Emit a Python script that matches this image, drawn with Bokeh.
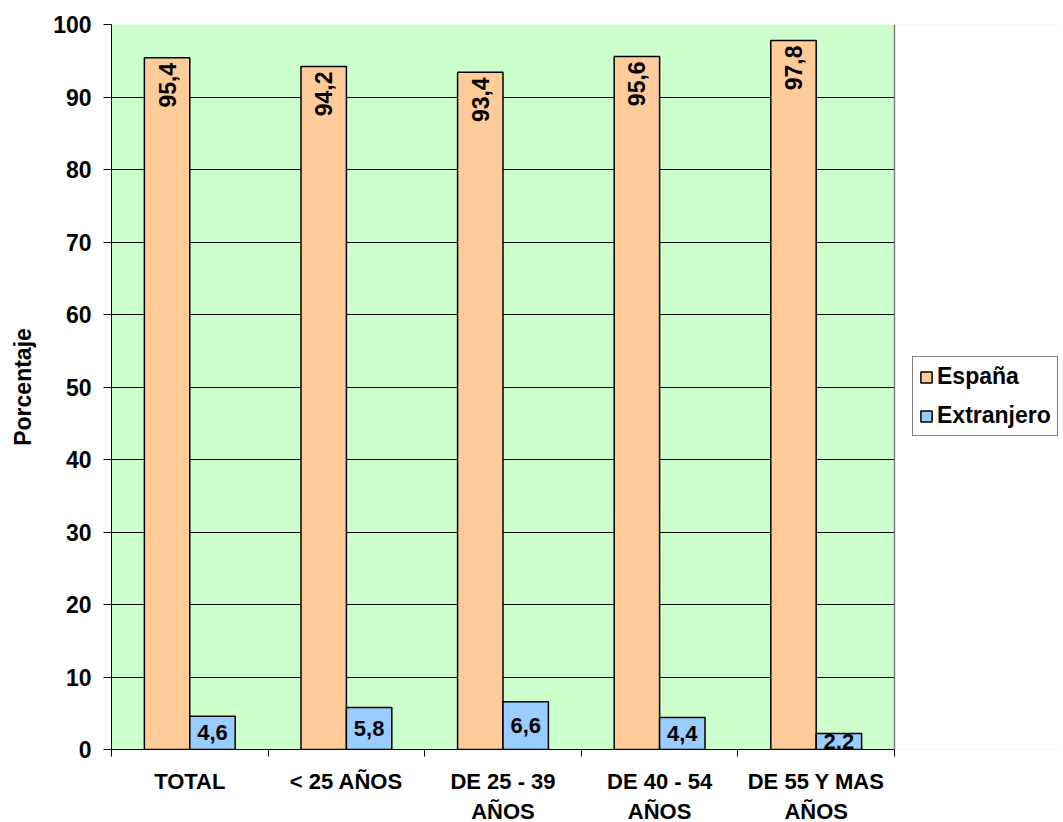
import numpy as np
from bokeh.plotting import figure
from bokeh.models import (ColumnDataSource, FixedTicker, Legend, LegendItem, Range1d, BoxAnnotation, Grid)
from bokeh.core.properties import value
from bokeh.embed import file_html
from bokeh.resources import INLINE

categories = ["TOTAL", "< 25 AÑOS", "DE 25 - 39\nAÑOS", "DE 40 - 54\nAÑOS", "DE 55 Y MAS\nAÑOS"]
espana = [95.4, 94.2, 93.4, 95.6, 97.8]
extranjero = [4.6, 5.8, 6.6, 4.4, 2.2]
y_ticks = [0, 10, 20, 30, 40, 50, 60, 70, 80, 90, 100]

FONT = "Liberation Sans"
ORANGE = "#FFCC99"
BLUE = "#99CCFF"
GREEN = "#CCFFCC"

n = len(categories)
idx = np.arange(1, n + 1)
fmt = lambda v: f"{v:.1f}".replace(".", ",")

src_e = ColumnDataSource(dict(x=idx - 0.145, top=espana, lab=[fmt(v) for v in espana]))
src_x = ColumnDataSource(dict(x=idx + 0.145, top=extranjero, mid=[v / 2 for v in extranjero],
                              lab=[fmt(v) for v in extranjero]))

PLOT_W = 783          # pixel width of the category area
FRAME_W = 949         # frame extends to the right to host the legend
x_end = 0.5 + n * FRAME_W / PLOT_W

p = figure(output_backend="svg", toolbar_location=None,
           frame_width=FRAME_W, frame_height=725,
           x_range=Range1d(0.5, x_end), y_range=Range1d(0, 100),
           min_border_left=111, min_border_top=24, min_border_bottom=0, min_border_right=0)

p.border_fill_color = "white"
p.background_fill_color = GREEN
p.outline_line_color = None

# white area right of the plot region (legend zone)
p.add_layout(BoxAnnotation(left=n + 0.5, fill_color="white", fill_alpha=1.0,
                           line_color=None, level="underlay"))

r_e = p.vbar(x="x", top="top", width=0.29, source=src_e, fill_color=ORANGE,
             line_color="black", line_width=1.5)
r_x = p.vbar(x="x", top="top", width=0.29, source=src_x, fill_color=BLUE,
             line_color="black", line_width=1.5)

p.text(x="x", y="top", text="lab", source=src_e, angle=np.pi / 2,
       text_align="right", text_baseline="middle", y_offset=5,
       text_font=value(FONT), text_font_style="bold", text_font_size="23px", text_color="black")
p.text(x="x", y="mid", text="lab", source=src_x,
       text_align="center", text_baseline="middle",
       text_font=value(FONT), text_font_style="bold", text_font_size="22px", text_color="black")

# grid (the top edge is the gray plot-area border instead)
p.xgrid.visible = False
p.ygrid.ticker = FixedTicker(ticks=y_ticks[:-1])
p.ygrid.grid_line_color = "black"
p.ygrid.grid_line_width = 1
p.ygrid.bounds = (0.5, n + 0.5)

# gray plot-area border: top and right edges
p.add_layout(Grid(dimension=1, ticker=FixedTicker(ticks=[y_ticks[-1]]), bounds=(0.5, n + 0.5),
                  grid_line_color="#808080", grid_line_width=2))
p.add_layout(Grid(dimension=0, ticker=FixedTicker(ticks=[n + 0.5]),
                  grid_line_color="#808080", grid_line_width=1.5))

# y axis
p.yaxis.ticker = FixedTicker(ticks=y_ticks)
p.yaxis.axis_label = "Porcentaje"
p.yaxis.axis_label_text_font = FONT
p.yaxis.axis_label_text_font_style = "bold"
p.yaxis.axis_label_text_font_size = "23px"
p.yaxis.axis_label_text_color = "black"
p.yaxis.axis_label_standoff = 14
p.yaxis.major_label_text_font = FONT
p.yaxis.major_label_text_font_style = "bold"
p.yaxis.major_label_text_font_size = "23px"
p.yaxis.major_label_text_color = "black"
p.yaxis.major_label_standoff = 12
p.yaxis.major_tick_out = 8
p.yaxis.major_tick_in = 0
p.yaxis.minor_tick_line_color = None
p.yaxis.axis_line_color = "black"
p.yaxis.major_tick_line_color = "black"

# x axis: labels at centers, ticks at boundaries
p.xaxis.bounds = (0.5, n + 0.5)
p.xaxis.ticker = FixedTicker(ticks=list(idx), minor_ticks=list(np.arange(0.5, n + 1, 1.0)))
p.xaxis.major_label_overrides = {int(i): c for i, c in zip(idx, categories)}
p.xaxis.major_tick_line_color = None
p.xaxis.major_tick_out = 0
p.xaxis.major_tick_in = 0
p.xaxis.minor_tick_out = 7
p.xaxis.minor_tick_in = 0
p.xaxis.minor_tick_line_color = "black"
p.xaxis.axis_line_color = "black"
p.xaxis.major_label_standoff = 12
p.xaxis.major_label_text_font = FONT
p.xaxis.major_label_text_font_style = "bold"
p.xaxis.major_label_text_font_size = "22px"
p.xaxis.major_label_text_color = "black"

legend = Legend(items=[LegendItem(label="España", renderers=[r_e]),
                       LegendItem(label="Extranjero", renderers=[r_x])],
                location=(801, 313))
legend.margin = 0
legend.padding = 6
legend.spacing = 12
legend.glyph_width = 14
legend.glyph_height = 14
legend.label_standoff = 4
legend.label_text_font = FONT
legend.label_text_font_style = "bold"
legend.label_text_font_size = "23px"
legend.label_text_color = "black"
legend.border_line_color = "black"
legend.border_line_width = 1
legend.background_fill_color = "white"
p.add_layout(legend, "center")

open("out.html", "w").write(file_html(p, INLINE))
